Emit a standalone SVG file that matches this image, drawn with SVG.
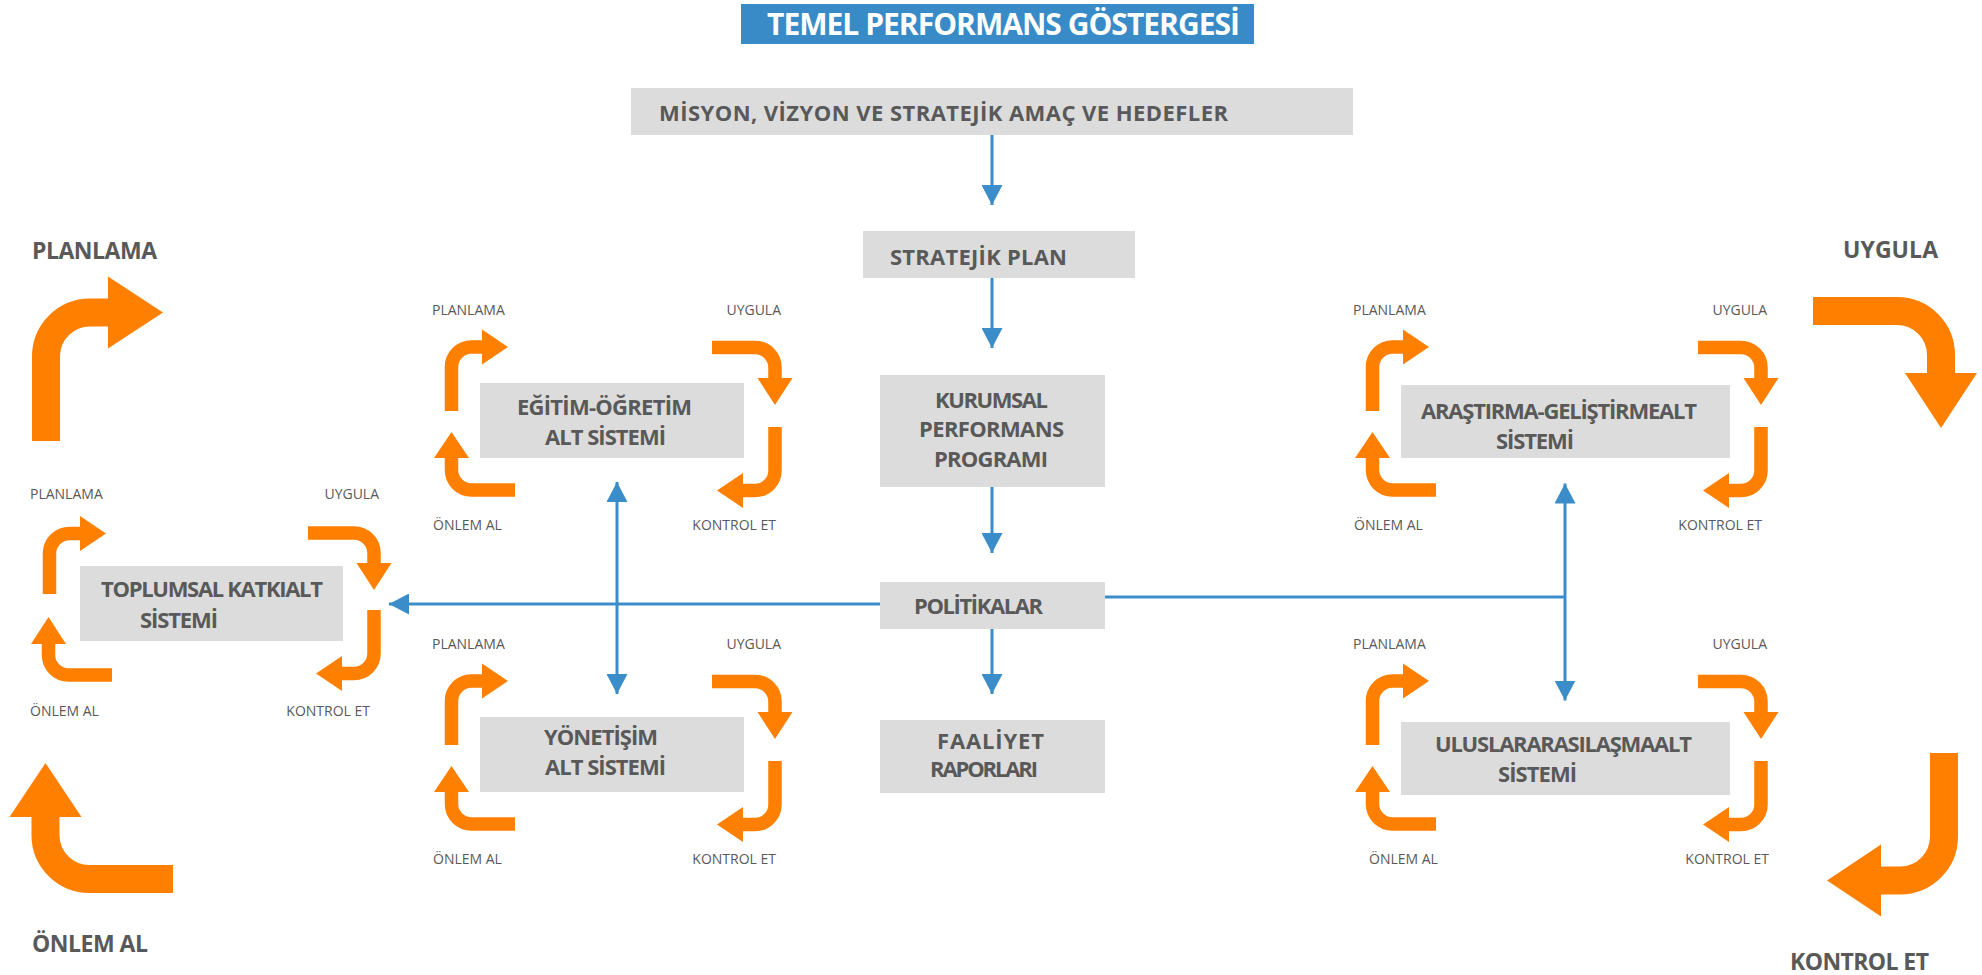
<svg xmlns="http://www.w3.org/2000/svg" width="1982" height="975" viewBox="0 0 1982 975">
<defs>
<style>
.box{fill:#DCDCDC}
.tb{fill:#388BC6}
.bt{font-family:"Open Sans","Liberation Sans",sans-serif;font-weight:bold;font-size:22px;fill:#595959}
.tt{font-family:"Open Sans","Liberation Sans",sans-serif;font-weight:bold;font-size:30px;fill:#FFFFFF}
.big{font-family:"Open Sans","Liberation Sans",sans-serif;font-weight:bold;font-size:23px;fill:#595959}
.sm{font-family:"Open Sans","Liberation Sans",sans-serif;font-size:14px;fill:#595959}
.e{text-anchor:end}
.sa{fill:none;stroke:#FF8000;stroke-width:13.5}
.ba{fill:none;stroke:#FF8000;stroke-width:28}
.ah{fill:#FF8000}
.con{fill:none;stroke:#3A8DC8;stroke-width:3}
</style>
<marker id="bh" markerUnits="userSpaceOnUse" markerWidth="20" markerHeight="21" viewBox="0 0 20 21" refX="20" refY="10.5" orient="auto-start-reverse"><path d="M0,0 L20,10.5 L0,21 z" fill="#3A8DC8"/></marker>
</defs>
<rect width="1982" height="975" fill="#FFFFFF"/>

<g id="title">
<rect class="tb" x="741" y="4" width="513" height="40"/>
<text class="tt" x="767" y="35" textLength="473">TEMEL PERFORMANS GÖSTERGESİ</text>
</g>

<g id="connectors">
<path class="con" d="M992,135 V205" marker-end="url(#bh)"/>
<path class="con" d="M992,278 V348" marker-end="url(#bh)"/>
<path class="con" d="M992,487 V553" marker-end="url(#bh)"/>
<path class="con" d="M992,629 V694" marker-end="url(#bh)"/>
<path class="con" d="M880,604 H389" marker-end="url(#bh)"/>
<path class="con" d="M1105,597 H1565"/>
<path class="con" d="M1565,483.5 V700.5" marker-start="url(#bh)" marker-end="url(#bh)"/>
<path class="con" d="M617,482 V694" marker-start="url(#bh)" marker-end="url(#bh)"/>
</g>

<g id="misyon">
<rect class="box" x="631" y="88" width="722" height="47"/>
<text class="bt" x="659" y="121" textLength="569">MİSYON, VİZYON VE STRATEJİK AMAÇ VE HEDEFLER</text>
</g>
<g id="stratejik-plan">
<rect class="box" x="863" y="231" width="272" height="47"/>
<text class="bt" x="890" y="265" textLength="177">STRATEJİK PLAN</text>
</g>
<g id="kurumsal">
<rect class="box" x="880" y="375" width="225" height="112"/>
<text class="bt" x="935" y="408" textLength="113">KURUMSAL</text>
<text class="bt" x="919" y="437" textLength="145">PERFORMANS</text>
<text class="bt" x="934" y="467" textLength="114">PROGRAMI</text>
</g>
<g id="politikalar">
<rect class="box" x="880" y="582" width="225" height="47"/>
<text class="bt" x="914" y="614" textLength="129">POLİTİKALAR</text>
</g>
<g id="faaliyet">
<rect class="box" x="880" y="720" width="225" height="73"/>
<text class="bt" x="937" y="749" textLength="107">FAALİYET</text>
<text class="bt" x="930" y="777" textLength="108">RAPORLARI</text>
</g>

<g id="big-cycle">
<path class="ba" d="M46,441 V356.5 A44,44 0 0 1 90,312.5 H109"/>
<polygon class="ah" points="108,276.5 163,312.5 108,348.5"/>
<path class="ba" d="M1813,311 H1897 A44,44 0 0 1 1941,355 V374"/>
<polygon class="ah" points="1905,373 1977,373 1941,428"/>
<path class="ba" d="M1944,753 V836.5 A44,44 0 0 1 1900,880.5 H1880"/>
<polygon class="ah" points="1881,844.5 1881,916.5 1827,880.5"/>
<path class="ba" d="M173,879 H89.5 A44,44 0 0 1 45.5,835 V816"/>
<polygon class="ah" points="9.5,817 81.5,817 45.5,763"/>
<text class="big" x="32" y="259" textLength="125">PLANLAMA</text>
<text class="big" x="1843" y="258" textLength="95">UYGULA</text>
<text class="big" x="32" y="952" textLength="116">ÖNLEM AL</text>
<text class="big" x="1790" y="970" textLength="139">KONTROL ET</text>
</g>

<g id="toplumsal">
<rect class="box" x="80" y="566" width="263" height="75"/>
<text class="bt" x="101" y="597" textLength="222">TOPLUMSAL KATKIALT</text>
<text class="bt" x="140" y="628" textLength="78">SİSTEMİ</text>
<path class="sa" d="M49.5,594 V553.5 A20,20 0 0 1 69.5,533.5 H81"/>
<polygon class="ah" points="80,516 106,533.5 80,551"/>
<path class="sa" d="M308,533 H354 A20,20 0 0 1 374,553 V564"/>
<polygon class="ah" points="356.5,563 391.5,563 374,590"/>
<path class="sa" d="M374,610 V653.5 A20,20 0 0 1 354,673.5 H341"/>
<polygon class="ah" points="342,656 342,691 316,673.5"/>
<path class="sa" d="M112,675 H68.5 A20,20 0 0 1 48.5,655 V643"/>
<polygon class="ah" points="31,644 66,644 48.5,617"/>
<text class="sm" x="30" y="499">PLANLAMA</text>
<text class="sm e" x="379" y="499">UYGULA</text>
<text class="sm" x="30" y="716">ÖNLEM AL</text>
<text class="sm e" x="370" y="716">KONTROL ET</text>
</g>

<g id="egitim">
<rect class="box" x="480" y="383" width="264" height="75"/>
<text class="bt" x="517" y="415" textLength="175">EĞİTİM-ÖĞRETİM</text>
<text class="bt" x="545" y="445" textLength="121">ALT SİSTEMİ</text>
<path class="sa" d="M451.5,411 V367 A20,20 0 0 1 471.5,347 H483"/>
<polygon class="ah" points="482,329.5 508,347 482,364.5"/>
<path class="sa" d="M712,347.5 H755 A20,20 0 0 1 775,367.5 V379"/>
<polygon class="ah" points="757.5,378 792.5,378 775,405"/>
<path class="sa" d="M775,427 V470.5 A20,20 0 0 1 755,490.5 H742"/>
<polygon class="ah" points="743,473 743,508 717,490.5"/>
<path class="sa" d="M515,490 H471.5 A20,20 0 0 1 451.5,470 V457"/>
<polygon class="ah" points="434,458 469,458 451.5,432"/>
<text class="sm" x="432" y="315">PLANLAMA</text>
<text class="sm e" x="781" y="315">UYGULA</text>
<text class="sm" x="433" y="530">ÖNLEM AL</text>
<text class="sm e" x="776" y="530">KONTROL ET</text>
</g>

<g id="yonetisim">
<rect class="box" x="480" y="717" width="264" height="75"/>
<text class="bt" x="544" y="745" textLength="114">YÖNETİŞİM</text>
<text class="bt" x="545" y="775" textLength="121">ALT SİSTEMİ</text>
<path class="sa" d="M451.5,745 V701 A20,20 0 0 1 471.5,681 H483"/>
<polygon class="ah" points="482,663.5 508,681 482,698.5"/>
<path class="sa" d="M712,681.5 H755 A20,20 0 0 1 775,701.5 V713"/>
<polygon class="ah" points="757.5,712 792.5,712 775,739"/>
<path class="sa" d="M775,761 V804.5 A20,20 0 0 1 755,824.5 H742"/>
<polygon class="ah" points="743,807 743,842 717,824.5"/>
<path class="sa" d="M515,824 H471.5 A20,20 0 0 1 451.5,804 V791"/>
<polygon class="ah" points="434,792 469,792 451.5,766"/>
<text class="sm" x="432" y="649">PLANLAMA</text>
<text class="sm e" x="781" y="649">UYGULA</text>
<text class="sm" x="433" y="864">ÖNLEM AL</text>
<text class="sm e" x="776" y="864">KONTROL ET</text>
</g>

<g id="arastirma">
<rect class="box" x="1401" y="385" width="329" height="73"/>
<text class="bt" x="1421" y="419" textLength="276">ARAŞTIRMA-GELİŞTİRMEALT</text>
<text class="bt" x="1496" y="449" textLength="78">SİSTEMİ</text>
<path class="sa" d="M1372.5,411 V367 A20,20 0 0 1 1392.5,347 H1404"/>
<polygon class="ah" points="1403,329.5 1429,347 1403,364.5"/>
<path class="sa" d="M1698,347.5 H1741 A20,20 0 0 1 1761,367.5 V379"/>
<polygon class="ah" points="1743.5,378 1778.5,378 1761,405"/>
<path class="sa" d="M1761,427 V470.5 A20,20 0 0 1 1741,490.5 H1728"/>
<polygon class="ah" points="1729,473 1729,508 1703,490.5"/>
<path class="sa" d="M1436,490 H1392.5 A20,20 0 0 1 1372.5,470 V457"/>
<polygon class="ah" points="1355,458 1390,458 1372.5,432"/>
<text class="sm" x="1353" y="315">PLANLAMA</text>
<text class="sm e" x="1767" y="315">UYGULA</text>
<text class="sm" x="1354" y="530">ÖNLEM AL</text>
<text class="sm e" x="1762" y="530">KONTROL ET</text>
</g>

<g id="uluslararasi">
<rect class="box" x="1401" y="722" width="329" height="73"/>
<text class="bt" x="1435" y="752" textLength="257">ULUSLARARASILAŞMAALT</text>
<text class="bt" x="1498" y="782" textLength="79">SİSTEMİ</text>
<path class="sa" d="M1372.5,745 V701 A20,20 0 0 1 1392.5,681 H1404"/>
<polygon class="ah" points="1403,663.5 1429,681 1403,698.5"/>
<path class="sa" d="M1698,681.5 H1741 A20,20 0 0 1 1761,701.5 V713"/>
<polygon class="ah" points="1743.5,712 1778.5,712 1761,739"/>
<path class="sa" d="M1761,761 V804.5 A20,20 0 0 1 1741,824.5 H1728"/>
<polygon class="ah" points="1729,807 1729,842 1703,824.5"/>
<path class="sa" d="M1436,824 H1392.5 A20,20 0 0 1 1372.5,804 V791"/>
<polygon class="ah" points="1355,792 1390,792 1372.5,766"/>
<text class="sm" x="1353" y="649">PLANLAMA</text>
<text class="sm e" x="1767" y="649">UYGULA</text>
<text class="sm" x="1369" y="864">ÖNLEM AL</text>
<text class="sm e" x="1769" y="864">KONTROL ET</text>
</g>
</svg>
